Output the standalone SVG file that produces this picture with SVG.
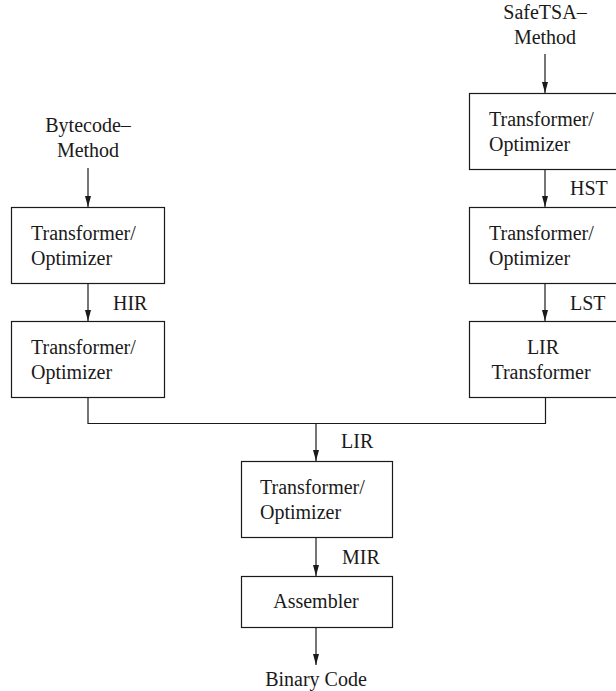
<svg xmlns="http://www.w3.org/2000/svg" width="616" height="691" viewBox="0 0 616 691">
  <style>
    .box { fill: #ffffff; stroke: #1a1a1a; stroke-width: 1.2; }
    .wire { fill: none; stroke: #1a1a1a; stroke-width: 1.2; }
    text { font-family: "Liberation Serif", "Times New Roman", serif; font-size: 20px; fill: #1a1a1a; }
    .mid { text-anchor: middle; }
  </style>
  <defs>
    <marker id="arrow" markerUnits="userSpaceOnUse" markerWidth="12" markerHeight="8" refX="11" refY="3" orient="auto">
      <path d="M0,0 L11,3 L0,6 Z" fill="#1a1a1a"/>
    </marker>
  </defs>
  <rect width="616" height="691" fill="#ffffff"/>

  <!-- connectors -->
  <g id="connectors">
    <line class="wire" x1="88" y1="168" x2="88" y2="207" marker-end="url(#arrow)"/>
    <line class="wire" x1="88" y1="283" x2="88" y2="321" marker-end="url(#arrow)"/>
    <line class="wire" x1="545" y1="54" x2="545" y2="93" marker-end="url(#arrow)"/>
    <line class="wire" x1="545" y1="169" x2="545" y2="207" marker-end="url(#arrow)"/>
    <line class="wire" x1="545" y1="283" x2="545" y2="321" marker-end="url(#arrow)"/>
    <polyline class="wire" points="88,398 88,423.5 545.5,423.5 545.5,398"/>
    <line class="wire" x1="316" y1="423.5" x2="316" y2="461" marker-end="url(#arrow)"/>
    <line class="wire" x1="316" y1="537" x2="316" y2="576" marker-end="url(#arrow)"/>
    <line class="wire" x1="316" y1="627" x2="316" y2="665" marker-end="url(#arrow)"/>
    <text x="113" y="310">HIR</text>
    <text x="570" y="195">HST</text>
    <text x="570" y="310">LST</text>
    <text x="341" y="448">LIR</text>
    <text x="342" y="564">MIR</text>
  </g>

  <!-- bytecode input -->
  <g id="bytecode-method">
    <text class="mid" x="88" y="132">Bytecode–</text>
    <text class="mid" x="88" y="157">Method</text>
  </g>

  <g id="left-opt-1">
    <rect class="box" x="11.5" y="207.5" width="153" height="76"/>
    <text x="31" y="240">Transformer/</text>
    <text x="31" y="265">Optimizer</text>
  </g>

  <g id="left-opt-2">
    <rect class="box" x="11.5" y="321.5" width="153" height="76"/>
    <text x="31" y="354">Transformer/</text>
    <text x="31" y="379">Optimizer</text>
  </g>

  <!-- SafeTSA input -->
  <g id="safetsa-method">
    <text class="mid" x="545" y="19">SafeTSA–</text>
    <text class="mid" x="545" y="44">Method</text>
  </g>

  <g id="right-opt-1">
    <rect class="box" x="469.5" y="93.5" width="153" height="76"/>
    <text x="489" y="126">Transformer/</text>
    <text x="489" y="151">Optimizer</text>
  </g>

  <g id="right-opt-2">
    <rect class="box" x="469.5" y="207.5" width="153" height="76"/>
    <text x="489" y="240">Transformer/</text>
    <text x="489" y="265">Optimizer</text>
  </g>

  <g id="lir-transformer">
    <rect class="box" x="469.5" y="321.5" width="153" height="76"/>
    <text class="mid" x="543" y="354">LIR</text>
    <text class="mid" x="541" y="379">Transformer</text>
  </g>

  <g id="center-opt">
    <rect class="box" x="241.5" y="461.5" width="151" height="76"/>
    <text x="260" y="494">Transformer/</text>
    <text x="260" y="519">Optimizer</text>
  </g>

  <g id="assembler">
    <rect class="box" x="241.5" y="576.5" width="151" height="51"/>
    <text class="mid" x="316" y="608">Assembler</text>
  </g>

  <g id="binary-code">
    <text class="mid" x="316" y="686">Binary Code</text>
  </g>
</svg>
